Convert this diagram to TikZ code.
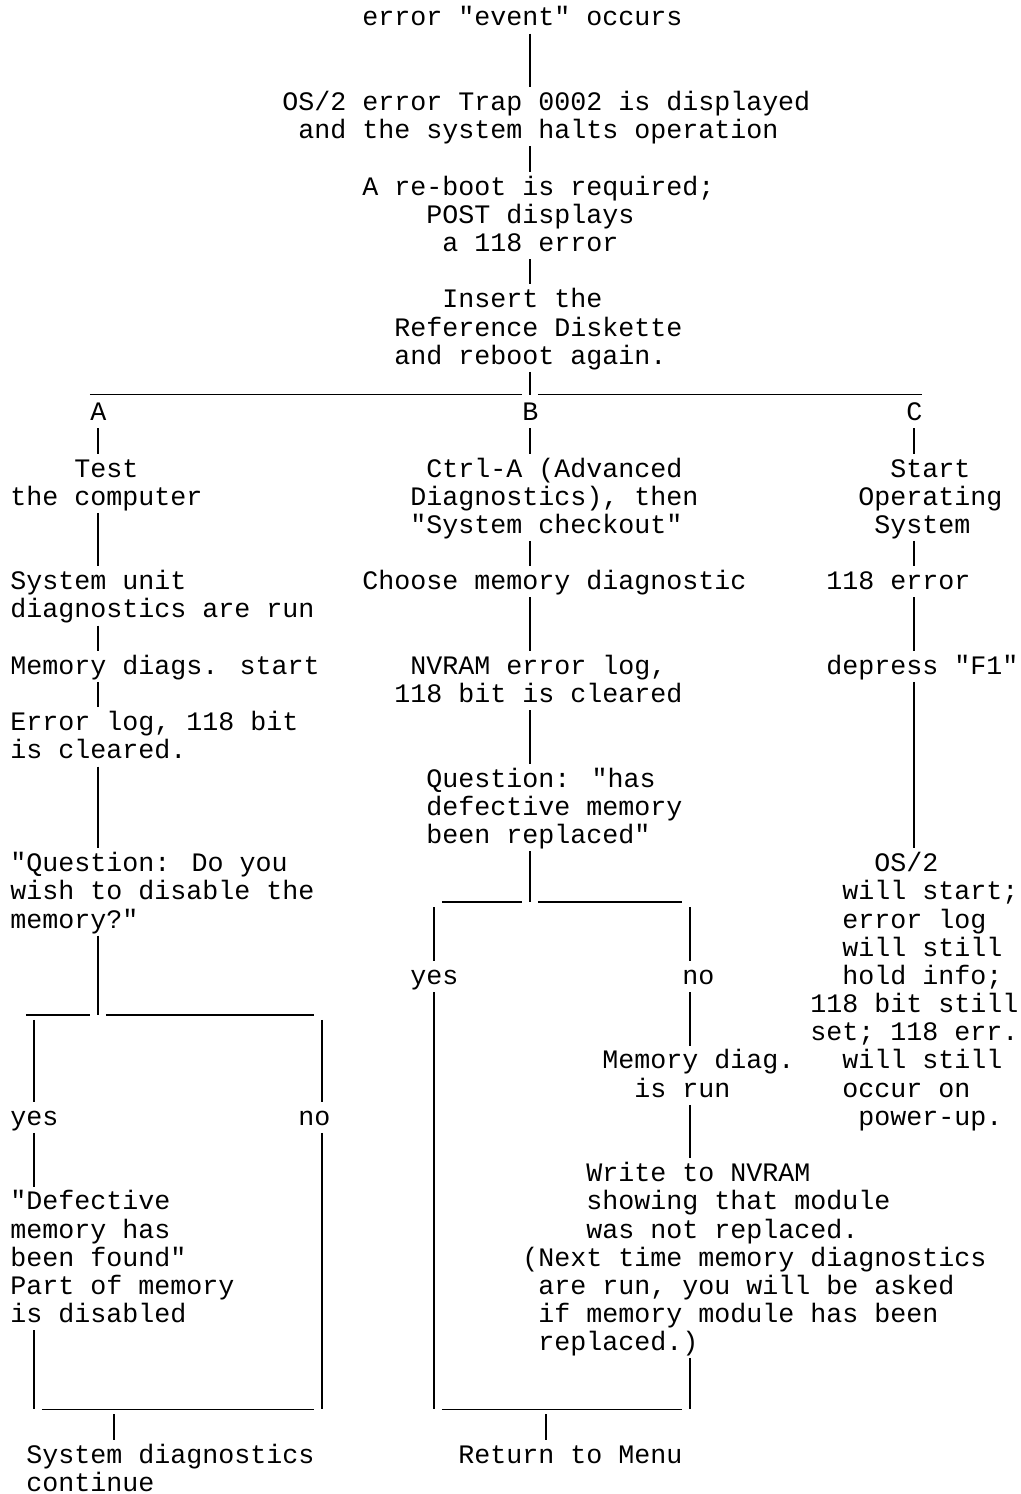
\documentclass[tikz,border=0pt]{standalone}
\usepackage{fontspec}
\newfontfamily\asciifont{Liberation Mono}
\begin{document}
\begin{tikzpicture}[x=8pt,y=-14.095pt,
    txt/.style={anchor=base west,inner sep=0pt,yshift=-13pt,
      font=\asciifont\fontsize{13.33}{14}\selectfont,
      text height=11.5pt,text depth=3.6pt},
    pipe/.style={line width=0.75pt},
    down/.style={pipe,shorten <=2.5pt},
    rule/.style={line width=0.75pt}]
           \useasboundingbox (-0.625,0) rectangle (63.1875,53);

           \node[txt] (event) at (22,0) {error "event" occurs};
           \node[txt] (trap) at (17,3) {OS/2 error Trap 0002 is displayed};
           \node[txt] (halt) at (18,4) {and the system halts operation};
           \node[txt] (reboot) at (22,6) {A re-boot is required;};
           \node[txt] (post) at (26,7) {POST displays};
           \node[txt] (err118) at (27,8) {a 118 error};
           \node[txt] (insert) at (27,10) {Insert the};
           \node[txt] (refdisk) at (24,11) {Reference Diskette};
           \node[txt] (again) at (24,12) {and reboot again.};

           \node[txt] (lblA) at (5,14) {A};
           \node[txt] (lblB) at (32,14) {B};
           \node[txt] (lblC) at (56,14) {C};

           \node[txt] (test) at (4,16) {Test};
           \node[txt] (computer) at (0,17) {the computer};
           \node[txt] (sysunit) at (0,20) {System unit};
           \node[txt] (sysdiag) at (0,21) {diagnostics are run};
           \node[txt] (memstart) at (0,23) {Memory diags. start};
           \node[txt] (errlog) at (0,25) {Error log, 118 bit};
           \node[txt] (cleared) at (0,26) {is cleared.};
           \node[txt] (askA1) at (0,30) {"Question: Do you};
           \node[txt] (askA2) at (0,31) {wish to disable the};
           \node[txt] (askA3) at (0,32) {memory?"};
           \node[txt] (yesA) at (0,39) {yes};
           \node[txt] (noA) at (18,39) {no};
           \node[txt] (found1) at (0,42) {"Defective};
           \node[txt] (found2) at (0,43) {memory has};
           \node[txt] (found3) at (0,44) {been found"};
           \node[txt] (found4) at (0,45) {Part of memory};
           \node[txt] (found5) at (0,46) {is disabled};
           \node[txt] (contA1) at (1,51) {System diagnostics};
           \node[txt] (contA2) at (1,52) {continue};

           \node[txt] (ctrl1) at (26,16) {Ctrl-A (Advanced};
           \node[txt] (ctrl2) at (25,17) {Diagnostics), then};
           \node[txt] (ctrl3) at (25,18) {"System checkout"};
           \node[txt] (choose) at (22,20) {Choose memory diagnostic};
           \node[txt] (nvram1) at (25,23) {NVRAM error log,};
           \node[txt] (nvram2) at (24,24) {118 bit is cleared};
           \node[txt] (askB1) at (26,27) {Question: "has};
           \node[txt] (askB2) at (26,28) {defective memory};
           \node[txt] (askB3) at (26,29) {been replaced"};
           \node[txt] (yesB) at (25,34) {yes};
           \node[txt] (noB) at (42,34) {no};
           \node[txt] (rundiag1) at (37,37) {Memory diag.};
           \node[txt] (rundiag2) at (39,38) {is run};
           \node[txt] (write1) at (36,41) {Write to NVRAM};
           \node[txt] (write2) at (36,42) {showing that module};
           \node[txt] (write3) at (36,43) {was not replaced.};
           \node[txt] (next1) at (32,44) {(Next time memory diagnostics};
           \node[txt] (next2) at (33,45) {are run, you will be asked};
           \node[txt] (next3) at (33,46) {if memory module has been};
           \node[txt] (next4) at (33,47) {replaced.)};
           \node[txt] (menu) at (28,51) {Return to Menu};

           \node[txt] (start1) at (55,16) {Start};
           \node[txt] (start2) at (53,17) {Operating};
           \node[txt] (start3) at (54,18) {System};
           \node[txt] (err118c) at (51,20) {118 error};
           \node[txt] (depress) at (51,23) {depress "F1"};
           \node[txt] (os1) at (54,30) {OS/2};
           \node[txt] (os2) at (52,31) {will start;};
           \node[txt] (os3) at (52,32) {error log};
           \node[txt] (os4) at (52,33) {will still};
           \node[txt] (os5) at (52,34) {hold info;};
           \node[txt] (os6) at (50,35) {118 bit still};
           \node[txt] (os7) at (50,36) {set; 118 err.};
           \node[txt] (os8) at (52,37) {will still};
           \node[txt] (os9) at (52,38) {occur on};
           \node[txt] (os10) at (53,39) {power-up.};

           \coordinate (colA) at (5.5,0);
           \coordinate (colB) at (32.5,0);
           \coordinate (colC) at (56.5,0);
           \coordinate (splitTop) at (32.5,14);
           \coordinate (ruleL) at (5,14);
           \coordinate (ruleR) at (57,14);
           \coordinate (splitA) at (5.5,36);
           \coordinate (yesAtop) at (1.5,36);
           \coordinate (noAtop) at (19.5,36);
           \coordinate (yesAbot) at (1.5,50);
           \coordinate (noAbot) at (19.5,50);
           \coordinate (joinA) at (6.5,50);
           \coordinate (splitB) at (32.5,32);
           \coordinate (yesBtop) at (26.5,32);
           \coordinate (noBtop) at (42.5,32);
           \coordinate (yesBbot) at (26.5,50);
           \coordinate (noBbot) at (42.5,50);
           \coordinate (joinB) at (33.5,50);

           \draw[pipe] (event.south -| colB) -- (trap.north -| colB);
           \draw[pipe] (halt.south -| colB) -- (reboot.north -| colB);
           \draw[pipe] (err118.south -| colB) -- (insert.north -| colB);
           \draw[pipe] (again.south -| colB) -- (splitTop);
           \draw[rule] (ruleL) -- ([xshift=-4pt]splitTop);
           \draw[rule] ([xshift=4pt]splitTop) -- (ruleR);

           \draw[pipe] (lblA.south -| colA) -- (test.north -| colA);
           \draw[pipe] (computer.south -| colA) -- (sysunit.north -| colA);
           \draw[pipe] (sysdiag.south -| colA) -- (memstart.north -| colA);
           \draw[pipe] (memstart.south -| colA) -- (errlog.north -| colA);
           \draw[pipe] (cleared.south -| colA) -- (askA1.north -| colA);
           \draw[pipe] (askA3.south -| colA) -- (splitA);
           \draw[rule] ([xshift=-4pt]yesAtop) -- ([xshift=-4pt]splitA);
           \draw[rule] ([xshift=4pt]splitA) -- ([xshift=-4pt]noAtop);
           \draw[down] (yesAtop) -- (yesA.north -| yesAtop);
           \draw[down] (noAtop) -- (noA.north -| noAtop);
           \draw[pipe] (yesA.south -| yesAtop) -- (found1.north -| yesAtop);
           \draw[pipe] (found5.south -| yesAbot) -- (yesAbot);
           \draw[pipe] (noA.south -| noAbot) -- (noAbot);
           \draw[rule] ([xshift=4pt]yesAbot) -- ([xshift=-4pt]noAbot);
           \draw[down] (joinA) -- (contA1.north -| joinA);

           \draw[pipe] (lblB.south -| colB) -- (ctrl1.north -| colB);
           \draw[pipe] (ctrl3.south -| colB) -- (choose.north -| colB);
           \draw[pipe] (choose.south -| colB) -- (nvram1.north -| colB);
           \draw[pipe] (nvram2.south -| colB) -- (askB1.north -| colB);
           \draw[pipe] (askB3.south -| colB) -- (splitB);
           \draw[rule] ([xshift=4pt]yesBtop) -- ([xshift=-4pt]splitB);
           \draw[rule] ([xshift=4pt]splitB) -- ([xshift=-4pt]noBtop);
           \draw[down] (yesBtop) -- (yesB.north -| yesBtop);
           \draw[down] (noBtop) -- (noB.north -| noBtop);
           \draw[pipe] (yesB.south -| yesBbot) -- (yesBbot);
           \draw[pipe] (noB.south -| noBtop) -- (rundiag1.north -| noBtop);
           \draw[pipe] (rundiag2.south -| noBtop) -- (write1.north -| noBtop);
           \draw[pipe] (next4.south -| noBbot) -- (noBbot);
           \draw[rule] ([xshift=4pt]yesBbot) -- ([xshift=-4pt]noBbot);
           \draw[down] (joinB) -- (menu.north -| joinB);

           \draw[pipe] (lblC.south -| colC) -- (start1.north -| colC);
           \draw[pipe] (start3.south -| colC) -- (err118c.north -| colC);
           \draw[pipe] (err118c.south -| colC) -- (depress.north -| colC);
           \draw[pipe] (depress.south -| colC) -- (os1.north -| colC);
         \end{tikzpicture}
\end{document}
